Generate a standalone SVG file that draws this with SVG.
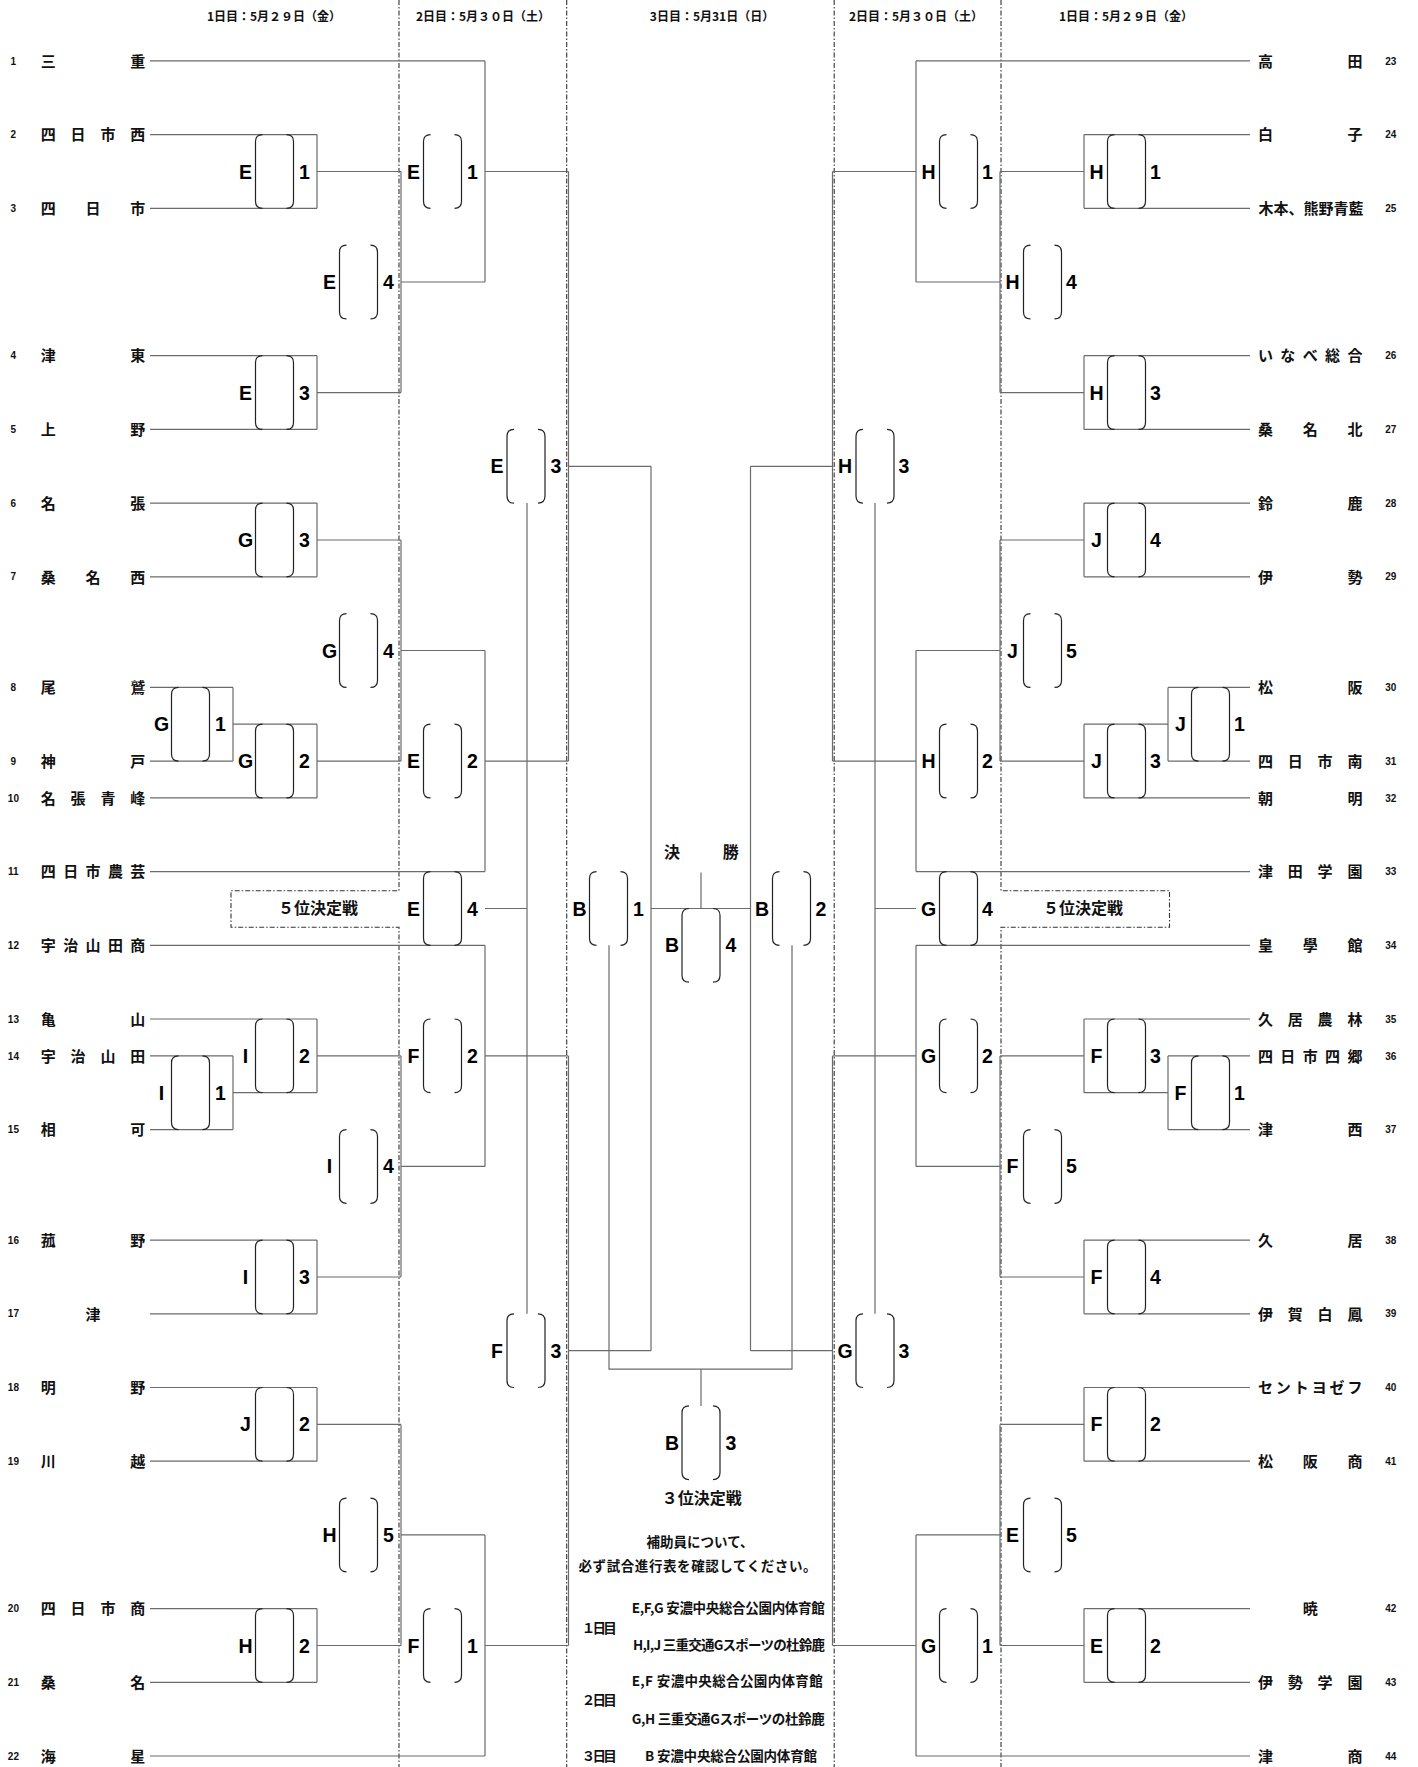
<svg xmlns="http://www.w3.org/2000/svg" xmlns:xlink="http://www.w3.org/1999/xlink" width="1418" height="1767" viewBox="0 0 1418 1767">
<style>
.ln{fill:none;stroke:#6b6b6b;stroke-width:1.2}
.dv{fill:none;stroke:#333;stroke-width:1.1;stroke-dasharray:5 2 1.5 2}
.nm{font-family:"Noto Sans CJK JP","Noto Sans CJK SC",sans-serif;font-weight:700;font-size:15px;fill:#111;text-anchor:middle}
.nl{font-family:"Noto Sans CJK JP","Noto Sans CJK SC",sans-serif;font-weight:700;font-size:15px;fill:#111}
.sd{font-family:"Liberation Sans",Arial,sans-serif;font-weight:700;font-size:10px;fill:#111;text-anchor:middle}
.ml{font-family:"Liberation Sans",Arial,sans-serif;font-weight:700;font-size:19.5px;fill:#000;text-anchor:middle}
.hd{font-family:"Noto Sans CJK JP","Noto Sans CJK SC",sans-serif;font-weight:700;font-size:12px;fill:#111;text-anchor:middle}
.tt{font-family:"Noto Sans CJK JP","Noto Sans CJK SC",sans-serif;font-weight:700;font-size:16px;fill:#111;text-anchor:middle}
.nt{font-family:"Noto Sans CJK JP","Noto Sans CJK SC",sans-serif;font-weight:700;font-size:13.5px;fill:#111}
.ntc{font-family:"Noto Sans CJK JP","Noto Sans CJK SC",sans-serif;font-weight:700;font-size:13.5px;fill:#111;text-anchor:middle}
</style>
<defs>
<path id="bx" d="M7,0 Q0,0 0,7 V66.7 Q0,73.7 7,73.7 M31,0 Q38,0 38,7 V66.7 Q38,73.7 31,73.7" fill="none" stroke="#222" stroke-width="1.2"/>
</defs>
<rect width="1418" height="1767" fill="#fff"/>

<g id="headers">
<text class="hd" x="274" y="21">1日目：5月２９日（金）</text>
<text class="hd" x="483" y="21">2日目：5月３０日（土）</text>
<text class="hd" x="712" y="21">3日目：5月31日（日）</text>
<text class="hd" x="916" y="21">2日目：5月３０日（土）</text>
<text class="hd" x="1126" y="21">1日目：5月２９日（金）</text>
</g>

<g id="dividers">
<path class="dv" d="M399,0 V890.7 H231 V927.3 H399 V1767"/>
<path class="dv" d="M566.7,0 V1767"/>
<path class="dv" d="M834.2,0 V1767"/>
<path class="dv" d="M1001,0 V890.7 H1169.5 V927.3 H1001 V1767"/>
</g>

<g id="connectors">
<path class="ln" d="M150,60.9H485 M150,134.6H317 M150,208.3H317 M150,355.7H317 M150,429.4H317 M150,503.1H317 M150,576.8H317 M150,687.4H233 M150,761.1H233 M150,797.9H317 M150,871.6H485 M150,945.3H485 M150,1019H317 M150,1055.9H233 M150,1129.6H233 M150,1240.1H317 M150,1313.8H317 M150,1387.5H317 M150,1461.2H317 M150,1608.6H317 M150,1682.3H317 M150,1756H485"/>
<path class="ln" d="M233,687.4V761.1 M233,724.2H317 M233,1055.9V1129.6 M233,1092.7H317 M317,134.6V208.3 M317,171.5H401 M317,355.7V429.4 M317,392.6H401 M317,503.1V576.8 M317,540H401 M317,724.2V797.9 M317,761.1H401 M317,1019V1092.7 M317,1055.9H401 M317,1240.1V1313.8 M317,1277H401 M317,1387.5V1461.2 M317,1424.4H401 M317,1608.6V1682.3 M317,1645.5H401"/>
<path class="ln" d="M401,171.5V392.6 M401,282H485 M401,540V761.1 M401,650.5H485 M401,1055.9V1277 M401,1166.4H485 M401,1424.4V1645.5 M401,1534.9H485"/>
<path class="ln" d="M485,60.9V282 M485,171.5H568.5 M485,650.5V871.6 M485,761.1H568.5 M485,945.3V1166.4 M485,1055.9H568.5 M485,1534.9V1756 M485,1645.5H568.5"/>
<path class="ln" d="M568.5,171.5V761.1 M568.5,466.3H651 M568.5,1055.9V1645.5 M568.5,1350.7H651 M651,466.3V1350.7 M651,908.5H750.5 M485,908.5H527 M527,503.1V1313.8"/>
<path class="ln" d="M916,60.9H1250 M1084,134.6H1250 M1084,208.3H1250 M1084,355.7H1250 M1084,429.4H1250 M1084,503.1H1250 M1084,576.8H1250 M1168,687.4H1250 M1168,761.1H1250 M1084,797.9H1250 M916,871.6H1250 M916,945.3H1250 M1084,1019H1250 M1168,1055.9H1250 M1168,1129.6H1250 M1084,1240.1H1250 M1084,1313.8H1250 M1084,1387.5H1250 M1084,1461.2H1250 M1084,1608.6H1250 M1084,1682.3H1250 M916,1756H1250"/>
<path class="ln" d="M1168,687.4V761.1 M1168,724.2H1084 M1168,1055.9V1129.6 M1168,1092.7H1084 M1084,134.6V208.3 M1084,171.5H1000 M1084,355.7V429.4 M1084,392.6H1000 M1084,503.1V576.8 M1084,540H1000 M1084,724.2V797.9 M1084,761.1H1000 M1084,1019V1092.7 M1084,1055.9H1000 M1084,1240.1V1313.8 M1084,1277H1000 M1084,1387.5V1461.2 M1084,1424.4H1000 M1084,1608.6V1682.3 M1084,1645.5H1000"/>
<path class="ln" d="M1000,171.5V392.6 M1000,282H916 M1000,540V761.1 M1000,650.5H916 M1000,1055.9V1277 M1000,1166.4H916 M1000,1424.4V1645.5 M1000,1534.9H916"/>
<path class="ln" d="M916,60.9V282 M916,171.5H832.5 M916,650.5V871.6 M916,761.1H832.5 M916,945.3V1166.4 M916,1055.9H832.5 M916,1534.9V1756 M916,1645.5H832.5"/>
<path class="ln" d="M832.5,171.5V761.1 M832.5,466.3H750.5 M832.5,1055.9V1645.5 M832.5,1350.7H750.5 M750.5,466.3V1350.7 M916,908.5H875 M875,503.1V1313.8"/>
<path class="ln" d="M701,872.5V908.5 M609,945.3V1369.1H792V945.3 M701,1369.1V1405.9"/>
</g>

<g id="teams-left">
<g id="t1"><text class="sd" x="13.4" y="64.5">1</text><text class="nm" x="48.3 137.7" y="66.6">三重</text></g>
<g id="t2"><text class="sd" x="13.4" y="138.2">2</text><text class="nm" x="48.3 78.1 107.9 137.7" y="140.3">四日市西</text></g>
<g id="t3"><text class="sd" x="13.4" y="211.9">3</text><text class="nm" x="48.3 93 137.7" y="214">四日市</text></g>
<g id="t4"><text class="sd" x="13.4" y="359.3">4</text><text class="nm" x="48.3 137.7" y="361.4">津東</text></g>
<g id="t5"><text class="sd" x="13.4" y="433">5</text><text class="nm" x="48.3 137.7" y="435.1">上野</text></g>
<g id="t6"><text class="sd" x="13.4" y="506.7">6</text><text class="nm" x="48.3 137.7" y="508.8">名張</text></g>
<g id="t7"><text class="sd" x="13.4" y="580.4">7</text><text class="nm" x="48.3 93 137.7" y="582.5">桑名西</text></g>
<g id="t8"><text class="sd" x="13.4" y="691">8</text><text class="nm" x="48.3 137.7" y="693.1">尾鷲</text></g>
<g id="t9"><text class="sd" x="13.4" y="764.7">9</text><text class="nm" x="48.3 137.7" y="766.8">神戸</text></g>
<g id="t10"><text class="sd" x="13.4" y="801.5">10</text><text class="nm" x="48.3 78.1 107.9 137.7" y="803.6">名張青峰</text></g>
<g id="t11"><text class="sd" x="13.4" y="875.2">11</text><text class="nm" x="48.3 70.7 93 115.4 137.7" y="877.3">四日市農芸</text></g>
<g id="t12"><text class="sd" x="13.4" y="948.9">12</text><text class="nm" x="48.3 70.7 93 115.4 137.7" y="951">宇治山田商</text></g>
<g id="t13"><text class="sd" x="13.4" y="1022.6">13</text><text class="nm" x="48.3 137.7" y="1024.7">亀山</text></g>
<g id="t14"><text class="sd" x="13.4" y="1059.5">14</text><text class="nm" x="48.3 78.1 107.9 137.7" y="1061.6">宇治山田</text></g>
<g id="t15"><text class="sd" x="13.4" y="1133.2">15</text><text class="nm" x="48.3 137.7" y="1135.3">相可</text></g>
<g id="t16"><text class="sd" x="13.4" y="1243.7">16</text><text class="nm" x="48.3 137.7" y="1245.8">菰野</text></g>
<g id="t17"><text class="sd" x="13.4" y="1317.4">17</text><text class="nm" x="93" y="1319.5">津</text></g>
<g id="t18"><text class="sd" x="13.4" y="1391.1">18</text><text class="nm" x="48.3 137.7" y="1393.2">明野</text></g>
<g id="t19"><text class="sd" x="13.4" y="1464.8">19</text><text class="nm" x="48.3 137.7" y="1466.9">川越</text></g>
<g id="t20"><text class="sd" x="13.4" y="1612.2">20</text><text class="nm" x="48.3 78.1 107.9 137.7" y="1614.3">四日市商</text></g>
<g id="t21"><text class="sd" x="13.4" y="1685.9">21</text><text class="nm" x="48.3 137.7" y="1688">桑名</text></g>
<g id="t22"><text class="sd" x="13.4" y="1759.6">22</text><text class="nm" x="48.3 137.7" y="1761.7">海星</text></g>
</g>

<g id="teams-right">
<g id="t23"><text class="sd" x="1390.7" y="64.5">23</text><text class="nm" x="1265.4 1355" y="66.6">高田</text></g>
<g id="t24"><text class="sd" x="1390.7" y="138.2">24</text><text class="nm" x="1265.4 1355" y="140.3">白子</text></g>
<g id="t25"><text class="sd" x="1390.7" y="211.9">25</text><text class="nl" x="1258.4" y="214">木本、熊野青藍</text></g>
<g id="t26"><text class="sd" x="1390.7" y="359.3">26</text><text class="nm" x="1265.4 1287.8 1310.2 1332.6 1355" y="361.4">いなべ総合</text></g>
<g id="t27"><text class="sd" x="1390.7" y="433">27</text><text class="nm" x="1265.4 1310.2 1355" y="435.1">桑名北</text></g>
<g id="t28"><text class="sd" x="1390.7" y="506.7">28</text><text class="nm" x="1265.4 1355" y="508.8">鈴鹿</text></g>
<g id="t29"><text class="sd" x="1390.7" y="580.4">29</text><text class="nm" x="1265.4 1355" y="582.5">伊勢</text></g>
<g id="t30"><text class="sd" x="1390.7" y="691">30</text><text class="nm" x="1265.4 1355" y="693.1">松阪</text></g>
<g id="t31"><text class="sd" x="1390.7" y="764.7">31</text><text class="nm" x="1265.4 1295.3 1325.1 1355" y="766.8">四日市南</text></g>
<g id="t32"><text class="sd" x="1390.7" y="801.5">32</text><text class="nm" x="1265.4 1355" y="803.6">朝明</text></g>
<g id="t33"><text class="sd" x="1390.7" y="875.2">33</text><text class="nm" x="1265.4 1295.3 1325.1 1355" y="877.3">津田学園</text></g>
<g id="t34"><text class="sd" x="1390.7" y="948.9">34</text><text class="nm" x="1265.4 1310.2 1355" y="951">皇學館</text></g>
<g id="t35"><text class="sd" x="1390.7" y="1022.6">35</text><text class="nm" x="1265.4 1295.3 1325.1 1355" y="1024.7">久居農林</text></g>
<g id="t36"><text class="sd" x="1390.7" y="1059.5">36</text><text class="nm" x="1265.4 1287.8 1310.2 1332.6 1355" y="1061.6">四日市四郷</text></g>
<g id="t37"><text class="sd" x="1390.7" y="1133.2">37</text><text class="nm" x="1265.4 1355" y="1135.3">津西</text></g>
<g id="t38"><text class="sd" x="1390.7" y="1243.7">38</text><text class="nm" x="1265.4 1355" y="1245.8">久居</text></g>
<g id="t39"><text class="sd" x="1390.7" y="1317.4">39</text><text class="nm" x="1265.4 1295.3 1325.1 1355" y="1319.5">伊賀白鳳</text></g>
<g id="t40"><text class="sd" x="1390.7" y="1391.1">40</text><text class="nm" x="1265.4 1283.3 1301.2 1319.2 1337.1 1355" y="1393.2">セントヨゼフ</text></g>
<g id="t41"><text class="sd" x="1390.7" y="1464.8">41</text><text class="nm" x="1265.4 1310.2 1355" y="1466.9">松阪商</text></g>
<g id="t42"><text class="sd" x="1390.7" y="1612.2">42</text><text class="nm" x="1310.2" y="1614.3">暁</text></g>
<g id="t43"><text class="sd" x="1390.7" y="1685.9">43</text><text class="nm" x="1265.4 1295.3 1325.1 1355" y="1688">伊勢学園</text></g>
<g id="t44"><text class="sd" x="1390.7" y="1759.6">44</text><text class="nm" x="1265.4 1355" y="1761.7">津商</text></g>
</g>

<g id="matches-left">
<g id="mL1"><use href="#bx" x="255.5" y="134.6"/><text class="ml" x="245.5" y="178.5">E</text><text class="ml" x="304.5" y="178.5">1</text></g>
<g id="mL2"><use href="#bx" x="423.5" y="134.6"/><text class="ml" x="413.5" y="178.5">E</text><text class="ml" x="472.5" y="178.5">1</text></g>
<g id="mL3"><use href="#bx" x="339.5" y="245.2"/><text class="ml" x="329.5" y="289">E</text><text class="ml" x="388.5" y="289">4</text></g>
<g id="mL4"><use href="#bx" x="255.5" y="355.7"/><text class="ml" x="245.5" y="399.6">E</text><text class="ml" x="304.5" y="399.6">3</text></g>
<g id="mL5"><use href="#bx" x="507" y="429.4"/><text class="ml" x="497" y="473.3">E</text><text class="ml" x="556" y="473.3">3</text></g>
<g id="mL6"><use href="#bx" x="255.5" y="503.1"/><text class="ml" x="245.5" y="547">G</text><text class="ml" x="304.5" y="547">3</text></g>
<g id="mL7"><use href="#bx" x="339.5" y="613.7"/><text class="ml" x="329.5" y="657.5">G</text><text class="ml" x="388.5" y="657.5">4</text></g>
<g id="mL8"><use href="#bx" x="171.5" y="687.4"/><text class="ml" x="161.5" y="731.2">G</text><text class="ml" x="220.5" y="731.2">1</text></g>
<g id="mL9"><use href="#bx" x="255.5" y="724.2"/><text class="ml" x="245.5" y="768.1">G</text><text class="ml" x="304.5" y="768.1">2</text></g>
<g id="mL10"><use href="#bx" x="423.5" y="724.2"/><text class="ml" x="413.5" y="768.1">E</text><text class="ml" x="472.5" y="768.1">2</text></g>
<g id="mL11"><use href="#bx" x="423.5" y="871.6"/><text class="ml" x="413.5" y="915.5">E</text><text class="ml" x="472.5" y="915.5">4</text></g>
<g id="mL12"><use href="#bx" x="255.5" y="1019"/><text class="ml" x="245.5" y="1062.9">I</text><text class="ml" x="304.5" y="1062.9">2</text></g>
<g id="mL13"><use href="#bx" x="423.5" y="1019"/><text class="ml" x="413.5" y="1062.9">F</text><text class="ml" x="472.5" y="1062.9">2</text></g>
<g id="mL14"><use href="#bx" x="171.5" y="1055.9"/><text class="ml" x="161.5" y="1099.7">I</text><text class="ml" x="220.5" y="1099.7">1</text></g>
<g id="mL15"><use href="#bx" x="339.5" y="1129.6"/><text class="ml" x="329.5" y="1173.4">I</text><text class="ml" x="388.5" y="1173.4">4</text></g>
<g id="mL16"><use href="#bx" x="255.5" y="1240.1"/><text class="ml" x="245.5" y="1284">I</text><text class="ml" x="304.5" y="1284">3</text></g>
<g id="mL17"><use href="#bx" x="507" y="1313.8"/><text class="ml" x="497" y="1357.7">F</text><text class="ml" x="556" y="1357.7">3</text></g>
<g id="mL18"><use href="#bx" x="255.5" y="1387.5"/><text class="ml" x="245.5" y="1431.4">J</text><text class="ml" x="304.5" y="1431.4">2</text></g>
<g id="mL19"><use href="#bx" x="339.5" y="1498.1"/><text class="ml" x="329.5" y="1541.9">H</text><text class="ml" x="388.5" y="1541.9">5</text></g>
<g id="mL20"><use href="#bx" x="255.5" y="1608.6"/><text class="ml" x="245.5" y="1652.5">H</text><text class="ml" x="304.5" y="1652.5">2</text></g>
<g id="mL21"><use href="#bx" x="423.5" y="1608.6"/><text class="ml" x="413.5" y="1652.5">F</text><text class="ml" x="472.5" y="1652.5">1</text></g>
</g>

<g id="matches-right">
<g id="mR1"><use href="#bx" x="939.5" y="134.6"/><text class="ml" x="928.5" y="178.5">H</text><text class="ml" x="987.5" y="178.5">1</text></g>
<g id="mR2"><use href="#bx" x="1107.5" y="134.6"/><text class="ml" x="1096.5" y="178.5">H</text><text class="ml" x="1155.5" y="178.5">1</text></g>
<g id="mR3"><use href="#bx" x="1023.5" y="245.2"/><text class="ml" x="1012.5" y="289">H</text><text class="ml" x="1071.5" y="289">4</text></g>
<g id="mR4"><use href="#bx" x="1107.5" y="355.7"/><text class="ml" x="1096.5" y="399.6">H</text><text class="ml" x="1155.5" y="399.6">3</text></g>
<g id="mR5"><use href="#bx" x="856" y="429.4"/><text class="ml" x="845" y="473.3">H</text><text class="ml" x="904" y="473.3">3</text></g>
<g id="mR6"><use href="#bx" x="1107.5" y="503.1"/><text class="ml" x="1096.5" y="547">J</text><text class="ml" x="1155.5" y="547">4</text></g>
<g id="mR7"><use href="#bx" x="1023.5" y="613.7"/><text class="ml" x="1012.5" y="657.5">J</text><text class="ml" x="1071.5" y="657.5">5</text></g>
<g id="mR8"><use href="#bx" x="1191.5" y="687.4"/><text class="ml" x="1180.5" y="731.2">J</text><text class="ml" x="1239.5" y="731.2">1</text></g>
<g id="mR9"><use href="#bx" x="1107.5" y="724.2"/><text class="ml" x="1096.5" y="768.1">J</text><text class="ml" x="1155.5" y="768.1">3</text></g>
<g id="mR10"><use href="#bx" x="939.5" y="724.2"/><text class="ml" x="928.5" y="768.1">H</text><text class="ml" x="987.5" y="768.1">2</text></g>
<g id="mR11"><use href="#bx" x="939.5" y="871.6"/><text class="ml" x="928.5" y="915.5">G</text><text class="ml" x="987.5" y="915.5">4</text></g>
<g id="mR12"><use href="#bx" x="939.5" y="1019"/><text class="ml" x="928.5" y="1062.9">G</text><text class="ml" x="987.5" y="1062.9">2</text></g>
<g id="mR13"><use href="#bx" x="1107.5" y="1019"/><text class="ml" x="1096.5" y="1062.9">F</text><text class="ml" x="1155.5" y="1062.9">3</text></g>
<g id="mR14"><use href="#bx" x="1191.5" y="1055.9"/><text class="ml" x="1180.5" y="1099.7">F</text><text class="ml" x="1239.5" y="1099.7">1</text></g>
<g id="mR15"><use href="#bx" x="1023.5" y="1129.6"/><text class="ml" x="1012.5" y="1173.4">F</text><text class="ml" x="1071.5" y="1173.4">5</text></g>
<g id="mR16"><use href="#bx" x="1107.5" y="1240.1"/><text class="ml" x="1096.5" y="1284">F</text><text class="ml" x="1155.5" y="1284">4</text></g>
<g id="mR17"><use href="#bx" x="856" y="1313.8"/><text class="ml" x="845" y="1357.7">G</text><text class="ml" x="904" y="1357.7">3</text></g>
<g id="mR18"><use href="#bx" x="1107.5" y="1387.5"/><text class="ml" x="1096.5" y="1431.4">F</text><text class="ml" x="1155.5" y="1431.4">2</text></g>
<g id="mR19"><use href="#bx" x="1023.5" y="1498.1"/><text class="ml" x="1012.5" y="1541.9">E</text><text class="ml" x="1071.5" y="1541.9">5</text></g>
<g id="mR20"><use href="#bx" x="1107.5" y="1608.6"/><text class="ml" x="1096.5" y="1652.5">E</text><text class="ml" x="1155.5" y="1652.5">2</text></g>
<g id="mR21"><use href="#bx" x="939.5" y="1608.6"/><text class="ml" x="928.5" y="1652.5">G</text><text class="ml" x="987.5" y="1652.5">1</text></g>
</g>

<g id="matches-center">
<g id="mB1"><use href="#bx" x="589.5" y="871.6"/><text class="ml" x="579.5" y="915.5">B</text><text class="ml" x="638.5" y="915.5">1</text></g>
<g id="mB2"><use href="#bx" x="772.5" y="871.6"/><text class="ml" x="762" y="915.5">B</text><text class="ml" x="821" y="915.5">2</text></g>
<g id="mB4"><use href="#bx" x="682" y="908.5"/><text class="ml" x="672" y="952.3">B</text><text class="ml" x="731" y="952.3">4</text></g>
<g id="mB3"><use href="#bx" x="682" y="1405.9"/><text class="ml" x="672" y="1449.8">B</text><text class="ml" x="731" y="1449.8">3</text></g>
</g>

<g id="labels">
<text class="tt" x="318" y="914.4">５位決定戦</text>
<text class="tt" x="1083" y="914.4">５位決定戦</text>
<text class="tt" x="672 730.7" y="858">決勝</text>
<text class="tt" x="701.7" y="1504">３位決定戦</text>
</g>

<g id="notes">
<text class="ntc" x="700" y="1547">補助員について、</text>
<text class="ntc" x="697.5" y="1570.5" textLength="238" lengthAdjust="spacing">必ず試合進行表を確認してください。</text>
<text class="nt" x="581.7" y="1632.7" textLength="35" lengthAdjust="spacing">１日目</text>
<text class="nt" x="631.7" y="1612.5" textLength="193" lengthAdjust="spacing">E,F,G 安濃中央総合公園内体育館</text>
<text class="nt" x="633" y="1649.8" textLength="192" lengthAdjust="spacing">H,I,J 三重交通Gスポーツの杜鈴鹿</text>
<text class="nt" x="581.7" y="1705.3" textLength="35" lengthAdjust="spacing">２日目</text>
<text class="nt" x="631.7" y="1685.8" textLength="191" lengthAdjust="spacing">E,F 安濃中央総合公園内体育館</text>
<text class="nt" x="631.7" y="1724" textLength="193" lengthAdjust="spacing">G,H 三重交通Gスポーツの杜鈴鹿</text>
<text class="nt" x="581.7" y="1760.5" textLength="35" lengthAdjust="spacing">３日目</text>
<text class="nt" x="645" y="1760.5" textLength="172" lengthAdjust="spacing">B 安濃中央総合公園内体育館</text>
</g>
</svg>
